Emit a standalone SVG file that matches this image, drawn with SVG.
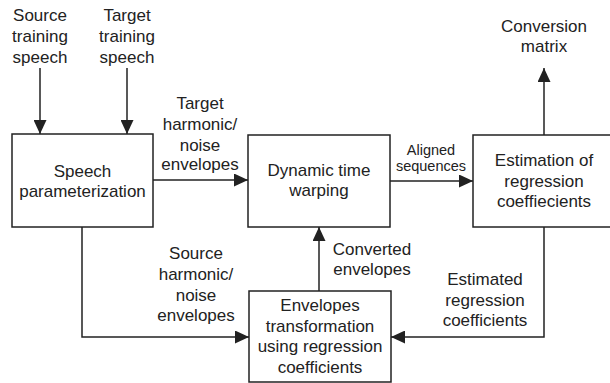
<svg xmlns="http://www.w3.org/2000/svg" width="610" height="383" viewBox="0 0 610 383">
<defs>
<style>
.box{fill:#fff;stroke:#222;stroke-width:1.5}
.ln{fill:none;stroke:#222;stroke-width:1.5}
.t{font-family:"Liberation Sans",Arial,sans-serif;font-size:17px;fill:#222;text-anchor:middle}
.s{font-size:14.5px}
</style>
<marker id="ah" markerWidth="14" markerHeight="13" refX="14" refY="6.5" orient="auto" markerUnits="userSpaceOnUse">
<path d="M0,0 L14,6.5 L0,13 Z" fill="#222"/>
</marker>
</defs>
<rect width="610" height="383" fill="#fff"/>
<g id="connectors">
<line class="ln" x1="40" y1="68" x2="40" y2="134" marker-end="url(#ah)"/>
<line class="ln" x1="127" y1="68" x2="127" y2="134" marker-end="url(#ah)"/>
<line class="ln" x1="153" y1="180" x2="248" y2="180" marker-end="url(#ah)"/>
<line class="ln" x1="390" y1="181" x2="473" y2="181" marker-end="url(#ah)"/>
<line class="ln" x1="544" y1="135" x2="544" y2="68" marker-end="url(#ah)"/>
<polyline class="ln" points="544,227 544,337 391,337" marker-end="url(#ah)"/>
<polyline class="ln" points="82,227 82,337 249,337" marker-end="url(#ah)"/>
<line class="ln" x1="319" y1="291" x2="319" y2="227" marker-end="url(#ah)"/>
<text class="t" x="200"><tspan x="200" y="109">Target</tspan><tspan x="200" y="130">harmonic/</tspan><tspan x="200" y="151">noise</tspan><tspan x="200" y="170">envelopes</tspan></text>
<text class="t s" x="431"><tspan x="431" y="155">Aligned</tspan><tspan x="431" y="171">sequences</tspan></text>
<text class="t" x="196"><tspan x="196" y="259">Source</tspan><tspan x="196" y="280">harmonic/</tspan><tspan x="196" y="300.5">noise</tspan><tspan x="196" y="320.5">envelopes</tspan></text>
<text class="t" x="372"><tspan x="372" y="255">Converted</tspan><tspan x="372" y="275">envelopes</tspan></text>
<text class="t" x="485"><tspan x="485" y="285">Estimated</tspan><tspan x="485" y="305.5">regression</tspan><tspan x="485" y="326">coefficients</tspan></text>
</g>
<g id="source-speech"><text class="t" x="40"><tspan x="40" y="21">Source</tspan><tspan x="40" y="42">training</tspan><tspan x="40" y="62.5">speech</tspan></text></g>
<g id="target-speech"><text class="t" x="127"><tspan x="127" y="21">Target</tspan><tspan x="127" y="42">training</tspan><tspan x="127" y="62.5">speech</tspan></text></g>
<g id="conversion-matrix"><text class="t" x="544"><tspan x="544" y="31.5">Conversion</tspan><tspan x="544" y="52">matrix</tspan></text></g>
<g id="speech-param"><rect class="box" x="12" y="134" width="141" height="93"/><text class="t" x="82.5"><tspan x="82.5" y="176.5">Speech</tspan><tspan x="82.5" y="196.5">parameterization</tspan></text></g>
<g id="dtw"><rect class="box" x="248" y="135" width="142" height="92"/><text class="t" x="319"><tspan x="319" y="175.5">Dynamic time</tspan><tspan x="319" y="196">warping</tspan></text></g>
<g id="estimation"><rect class="box" x="473" y="135" width="145" height="92"/><text class="t" x="544"><tspan x="544" y="165.5">Estimation of</tspan><tspan x="544" y="186.5">regression</tspan><tspan x="544" y="207">coeffiecients</tspan></text></g>
<g id="transformation"><rect class="box" x="249" y="291" width="142" height="91"/><text class="t" x="320"><tspan x="320" y="310.5">Envelopes</tspan><tspan x="320" y="331.5">transformation</tspan><tspan x="320" y="352">using regression</tspan><tspan x="320" y="372.5">coefficients</tspan></text></g>
</svg>
